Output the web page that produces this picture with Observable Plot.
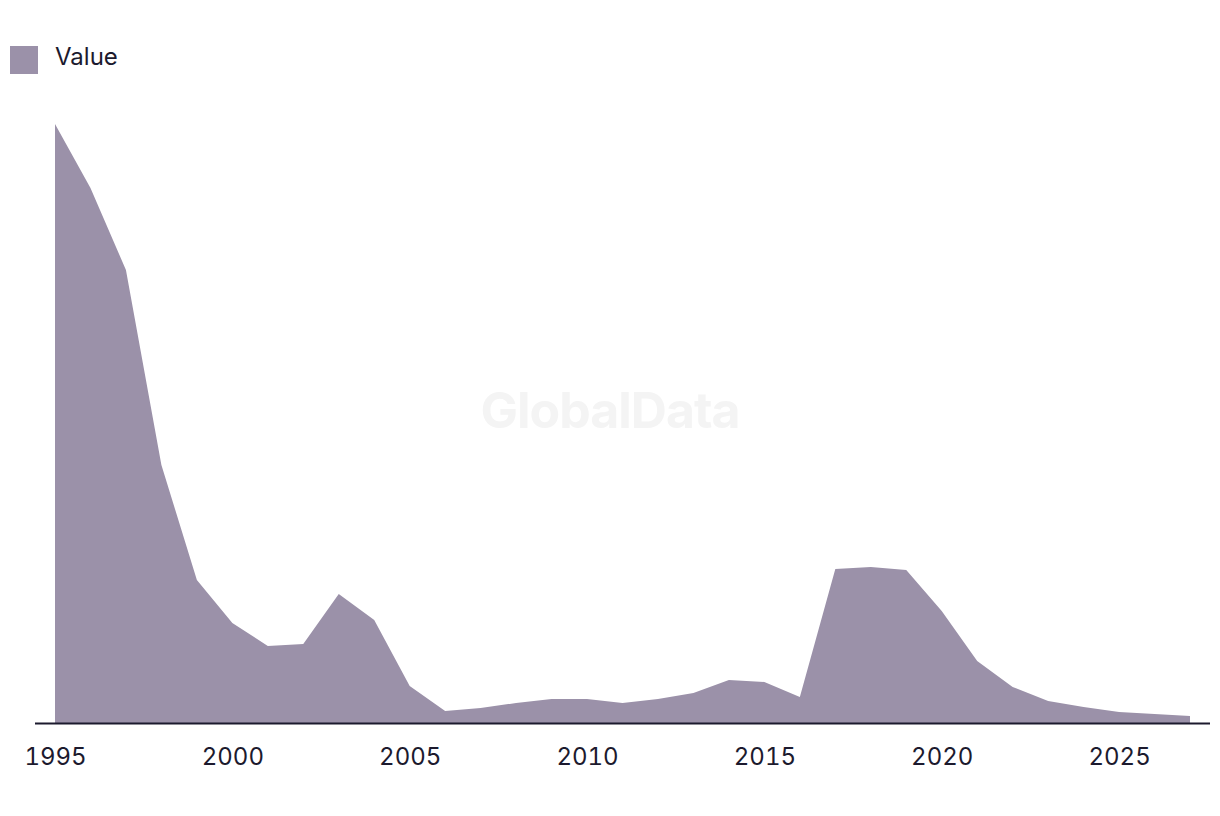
<!DOCTYPE html>
<html>
<head>
<meta charset="utf-8">
<script src="https://cdn.jsdelivr.net/npm/d3@7"></script>
<script src="https://cdn.jsdelivr.net/npm/@observablehq/plot@0.6"></script>
<style>
  html, body { margin: 0; padding: 0; background: #fff; }
  body { width: 1220px; height: 816px; position: relative; overflow: hidden; font-family: Inter, "Liberation Sans", sans-serif; color: #1c1a2e; }
  #legend { position: relative; height: 100px; }
  #legend .sw { position: absolute; left: 10px; top: 46px; width: 28px; height: 28px; background: #9b91a9; }
  #legend .lb { position: absolute; left: 55px; top: 42px; font-size: 24px; line-height: 30px; color: #1c1a2e; }
  #wm { position: absolute; left: 0; width: 1220px; top: 380px; text-align: center; padding-left: 0px; font-size: 50px; font-weight: 700; color: #f4f4f4; letter-spacing: -1px; }
  #chart { position: absolute; left: 0; top: 100px; }
</style>
</head>
<body>
<div id="legend"><div class="sw"></div><div class="lb">Value</div></div>
<div id="wm">GlobalData</div>
<div id="chart"></div>
<script>
const years = [1995,1996,1997,1998,1999,2000,2001,2002,2003,2004,2005,2006,2007,2008,2009,2010,2011,2012,2013,2014,2015,2016,2017,2018,2019,2020,2021,2022,2023,2024,2025,2026,2027];
const values = [599,535,453,258,143,100,77,79,129,103,37,12,15,20,24,24,20,24,30,43,41,26,154,156,153,112,62,36,22,16,11,9,7];
const tickYears = [1995,2000,2005,2010,2015,2020,2025];

const data = years.map((y, i) => ({year: y, value: values[i]}));

const chart = Plot.plot({
  width: 1220,
  height: 716,
  marginLeft: 35,
  marginRight: 10,
  marginTop: 24,
  marginBottom: 93,
  style: {fontFamily: "Inter, 'Liberation Sans', sans-serif", fontSize: "24px", color: "#1c1a2e", background: "transparent"},
  x: {domain: [1995, 2027], insetLeft: 20, insetRight: 20, ticks: tickYears, tickFormat: d => String(d), tickSize: 0, tickPadding: 24, label: null},
  y: {domain: [0, 599], axis: null},
  marks: [
    Plot.areaY(data, {x: "year", y: "value", fill: "#9b91a9"}),
    Plot.ruleY([0], {stroke: "#1c1a2e", strokeWidth: 2})
  ]
});
document.getElementById("chart").appendChild(chart);
</script>
</body>
</html>
